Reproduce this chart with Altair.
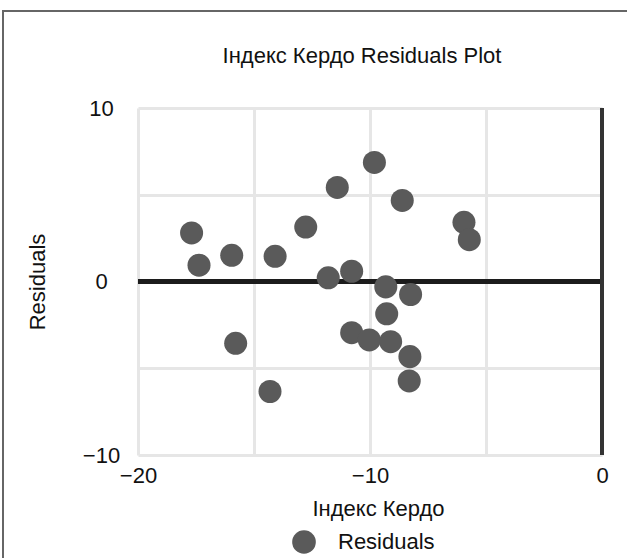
import altair as alt
import pandas as pd

# Kerdo index values and regression residuals
kerdo = [-17.69, -17.37, -15.96, -14.09, -12.77, -11.41, -11.80, -10.79,
         -9.81, -8.61, -5.95, -5.72, -9.32, -8.25, -9.28, -10.79,
         -10.03, -9.11, -8.28, -8.31, -15.79, -14.31]
residuals = [2.80, 0.94, 1.51, 1.45, 3.14, 5.42, 0.21, 0.59,
             6.86, 4.67, 3.41, 2.41, -0.31, -0.75, -1.86, -2.95,
             -3.37, -3.47, -4.33, -5.73, -3.56, -6.34]
series_name = "Residuals"

x_ticks = [-20, -15, -10, -5, 0]
y_ticks = [-10, -5, 0, 5, 10]

FONT = "Liberation Sans"
W, H = 464, 347

df = pd.DataFrame({"kerdo": kerdo, "resid": residuals, "series": series_name})

x_scale = alt.Scale(domain=[-20, 0], nice=False, zero=False)
y_scale = alt.Scale(domain=[-10, 10], nice=False, zero=False)

x_axis = alt.Axis(
    values=x_ticks,
    labelExpr="datum.value % 10 == 0 ? datum.label : ''",
    title="Індекс Кердо",
    titleX=240, titleY=53, titleBaseline="middle", titleAnchor="middle",
    labelPadding=20, labelBaseline="middle", labelAlign="center",
    labelFlush=False,
)
y_axis = alt.Axis(
    values=y_ticks,
    labelExpr="datum.value % 10 == 0 ? datum.label : ''",
    title="Residuals",
    titleX=-101, titleY=H / 2, titleAngle=270, titleAlign="center",
    titleBaseline="middle",
    labelAlign="center", labelPadding=37, labelBaseline="middle",
    labelFlush=False,
)

# outer frame around the figure
frame = alt.Chart(pd.DataFrame({"k": [0]})).mark_rect(
    fill="transparent", stroke="#666666", strokeWidth=2
).encode(
    x=alt.value(-135), x2=alt.value(W + 40),
    y=alt.value(-97), y2=alt.value(H + 120),
)

zero_h = alt.Chart(pd.DataFrame({"v": [0]})).mark_rule(
    color="#1c1c1c", strokeWidth=5
).encode(y=alt.Y("v:Q", scale=y_scale, axis=y_axis))

zero_v = alt.Chart(pd.DataFrame({"v": [0]})).mark_rule(
    color="#333333", strokeWidth=4
).encode(x=alt.X("v:Q", scale=x_scale, axis=x_axis))

points = alt.Chart(df).mark_circle(size=530, opacity=1).encode(
    x=alt.X("kerdo:Q", scale=x_scale, axis=x_axis),
    y=alt.Y("resid:Q", scale=y_scale, axis=y_axis),
    color=alt.Color(
        "series:N",
        scale=alt.Scale(domain=[series_name], range=["#5a5a5a"]),
        legend=alt.Legend(
            title=None, orient="none", legendX=154, legendY=422,
            symbolType="circle", symbolSize=560, symbolOpacity=1,
            symbolStrokeWidth=0, labelFontSize=22, labelFont=FONT,
            labelColor="#111111", labelOffset=22, padding=0,
        ),
    ),
)

chart = alt.layer(frame, zero_h, zero_v, points).properties(
    width=W,
    height=H,
    background="white",
    padding={"left": 138, "top": 108, "right": 25, "bottom": 103},
    autosize=alt.AutoSizeParams(type="none"),
    title=alt.TitleParams(
        "Індекс Кердо Residuals Plot",
        font=FONT, fontSize=22, fontWeight="normal", color="#111111",
        anchor="middle", baseline="alphabetic", offset=0, dy=75, dx=-8,
    ),
).configure_view(
    stroke="transparent"
).configure_axis(
    domain=False, ticks=False, tickSize=0, grid=True,
    gridColor="#e6e6e6", gridWidth=3,
    labelFont=FONT, labelFontSize=22, labelColor="#111111",
    titleFont=FONT, titleFontSize=22, titleFontWeight="normal",
    titleColor="#111111",
)

chart.save("out.html", embed_options={"renderer": "svg", "actions": False})
